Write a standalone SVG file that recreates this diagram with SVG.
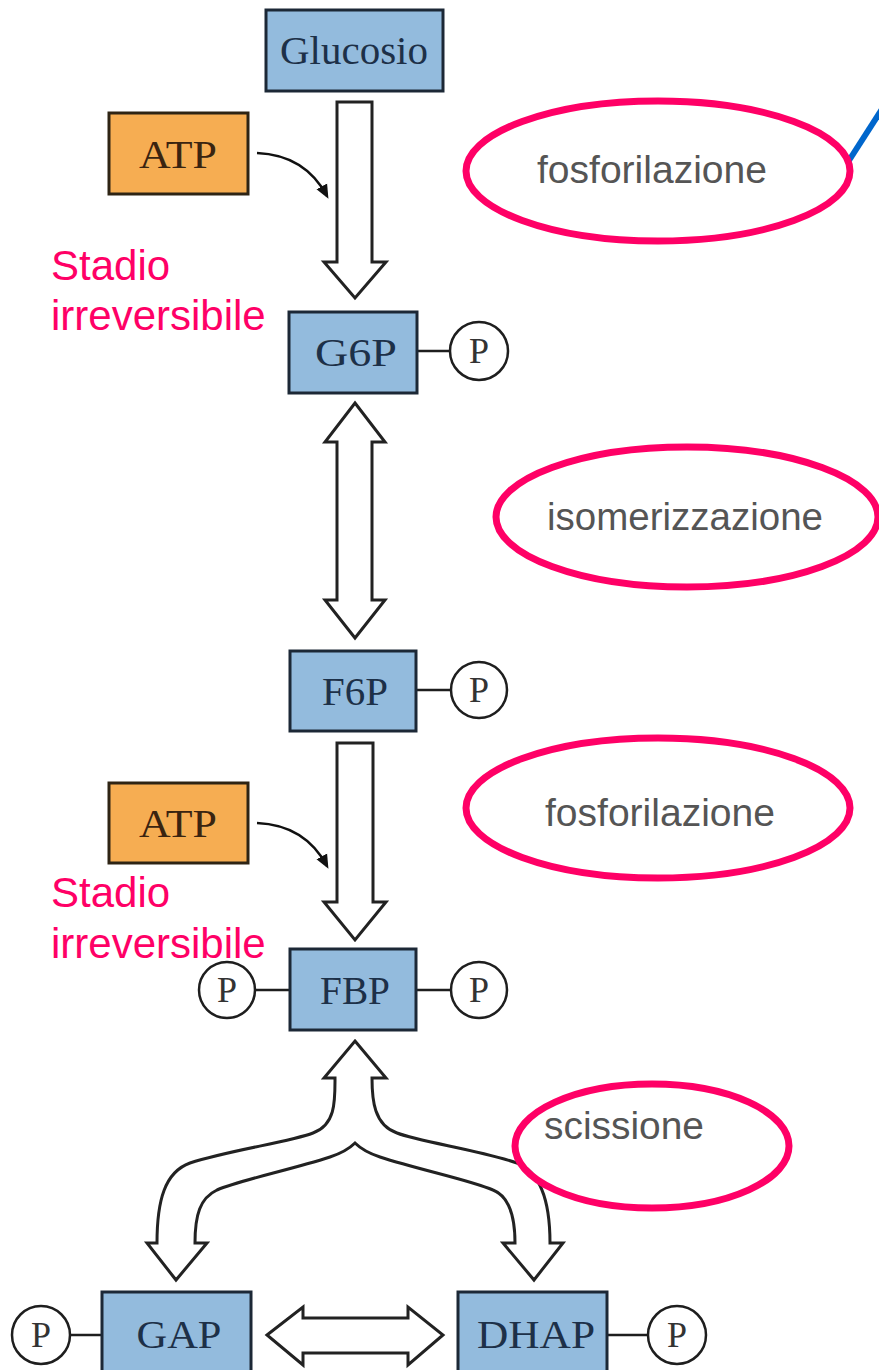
<svg xmlns="http://www.w3.org/2000/svg" width="879" height="1370" viewBox="0 0 879 1370">
<style>
.box{fill:#93bbdd;stroke:#1c2836;stroke-width:3}
.atp{fill:#f6ad52;stroke:#2e2414;stroke-width:3}
.bt{font-family:"Liberation Serif",serif;font-size:40px;fill:#1d3048;text-anchor:middle}
.at{font-family:"Liberation Serif",serif;font-size:41px;fill:#3a2410;text-anchor:middle}
.pc{fill:#fff;stroke:#1e1e1e;stroke-width:2.5}
.pt{font-family:"Liberation Serif",serif;font-size:36px;fill:#333;text-anchor:middle}
.ln{stroke:#1e1e1e;stroke-width:2.5;fill:none}
.arr{fill:#fff;stroke:#222;stroke-width:3;stroke-linejoin:miter}
.ell{fill:none;stroke:#ff0066;stroke-width:7}
.lab{font-family:"Liberation Sans",sans-serif;font-size:38px;fill:#555}
.red{font-family:"Liberation Sans",Arial,sans-serif;font-size:42px;fill:#ff0066}
.cur{fill:none;stroke:#111;stroke-width:2.5}
</style>
<defs>
<marker id="ah" markerWidth="14" markerHeight="14" refX="11" refY="6" orient="auto" markerUnits="userSpaceOnUse" viewBox="0 0 14 12">
<path d="M0,0 L14,6 L0,12 Z" fill="#111"/>
</marker>
</defs>
<rect width="879" height="1370" fill="#fff"/>

<g id="connectors">
<polygon class="arr" points="337,102 372,102 372,262 386,262 355,298 324,262 337,262"/>
<polygon class="arr" points="355,403 385,442 372,442 372,600 385,600 355,638 325,600 337,600 337,442 325,442"/>
<polygon class="arr" points="337,743 373,743 373,902 386,902 355,940 324,902 337,902"/>
<path class="arr" d="M355,1041 L386,1078 L372,1078 C372,1100 374,1125 397,1133 C420,1142 480,1150 517,1163 C540,1172 550,1200 550,1243 L563,1243 L534,1280 L503,1243 L515,1243 C515,1215 508,1196 493,1190 C470,1180 420,1170 380,1157 C368,1153 360,1148 355,1143 C350,1148 342,1153 330,1157 C290,1170 240,1180 217,1190 C200,1198 195,1215 195,1243 L207,1243 L176,1280 L147,1243 L157,1243 C157,1200 165,1172 190,1163 C230,1150 290,1142 313,1133 C336,1125 335,1100 335,1078 L324,1078 Z"/>
<polygon class="arr" points="267,1335 303,1307 303,1318 408,1318 408,1307 443,1335 408,1365 408,1353 303,1353 303,1365"/>
<path class="cur" d="M257,153 Q305,155 327,196" marker-end="url(#ah)"/>
<path class="cur" d="M257,823 Q305,825 327,866" marker-end="url(#ah)"/>
<line x1="417" y1="351" x2="450" y2="351" class="ln"/>
<line x1="416" y1="690" x2="450" y2="690" class="ln"/>
<line x1="255" y1="990" x2="290" y2="990" class="ln"/>
<line x1="416" y1="990" x2="450" y2="990" class="ln"/>
<line x1="70" y1="1335" x2="102" y2="1335" class="ln"/>
<line x1="607" y1="1335" x2="648" y2="1335" class="ln"/>
<line x1="848" y1="162" x2="884" y2="106" stroke="#0066cc" stroke-width="6"/>
</g>

<g id="glucosio"><rect class="box" x="266" y="10" width="177" height="81"/><text class="bt" x="354" y="64" textLength="148" lengthAdjust="spacingAndGlyphs">Glucosio</text></g>
<g id="atp1"><rect class="atp" x="109" y="113" width="139" height="81"/><text class="at" x="178" y="168" textLength="78" lengthAdjust="spacingAndGlyphs">ATP</text></g>
<g id="g6p"><rect class="box" x="289" y="312" width="128" height="81"/><text class="bt" x="356" y="366" textLength="82" lengthAdjust="spacingAndGlyphs">G6P</text></g>
<g id="p1"><circle class="pc" cx="479" cy="351" r="29"/><text class="pt" x="479" y="363">P</text></g>
<g id="f6p"><rect class="box" x="290" y="651" width="126" height="80"/><text class="bt" x="355" y="705" textLength="66" lengthAdjust="spacingAndGlyphs">F6P</text></g>
<g id="p2"><circle class="pc" cx="479" cy="690" r="28"/><text class="pt" x="479" y="702">P</text></g>
<g id="atp2"><rect class="atp" x="109" y="783" width="139" height="80"/><text class="at" x="178" y="837" textLength="78" lengthAdjust="spacingAndGlyphs">ATP</text></g>
<g id="fbp"><rect class="box" x="290" y="949" width="126" height="81"/><text class="bt" x="355" y="1004" textLength="70" lengthAdjust="spacingAndGlyphs">FBP</text></g>
<g id="p3"><circle class="pc" cx="227" cy="990" r="28"/><text class="pt" x="227" y="1002">P</text></g>
<g id="p4"><circle class="pc" cx="479" cy="990" r="28"/><text class="pt" x="479" y="1002">P</text></g>
<g id="gap"><rect class="box" x="102" y="1292" width="149" height="82"/><text class="bt" x="179" y="1348" textLength="85" lengthAdjust="spacingAndGlyphs">GAP</text></g>
<g id="p5"><circle class="pc" cx="41" cy="1335" r="29"/><text class="pt" x="41" y="1347">P</text></g>
<g id="dhap"><rect class="box" x="458" y="1292" width="149" height="82"/><text class="bt" x="536" y="1348" textLength="118" lengthAdjust="spacingAndGlyphs">DHAP</text></g>
<g id="p6"><circle class="pc" cx="677" cy="1335" r="29"/><text class="pt" x="677" y="1347">P</text></g>

<g id="label-fosf1"><ellipse class="ell" cx="658" cy="171" rx="192" ry="70"/><text class="lab" x="537" y="183" textLength="230" lengthAdjust="spacingAndGlyphs">fosforilazione</text></g>
<g id="label-isom"><ellipse class="ell" cx="687" cy="517" rx="191" ry="70"/><text class="lab" x="547" y="530" textLength="276" lengthAdjust="spacingAndGlyphs">isomerizzazione</text></g>
<g id="label-fosf2"><ellipse class="ell" cx="658" cy="808" rx="192" ry="70"/><text class="lab" x="545" y="826" textLength="230" lengthAdjust="spacingAndGlyphs">fosforilazione</text></g>
<g id="label-sciss"><ellipse class="ell" cx="652" cy="1146" rx="137" ry="62"/><text class="lab" x="544" y="1139" textLength="160" lengthAdjust="spacingAndGlyphs">scissione</text></g>

<g id="stadio1"><text class="red" x="51" y="280">Stadio</text><text class="red" x="51" y="330">irreversibile</text></g>
<g id="stadio2"><text class="red" x="51" y="907">Stadio</text><text class="red" x="51" y="958">irreversibile</text></g>
</svg>
